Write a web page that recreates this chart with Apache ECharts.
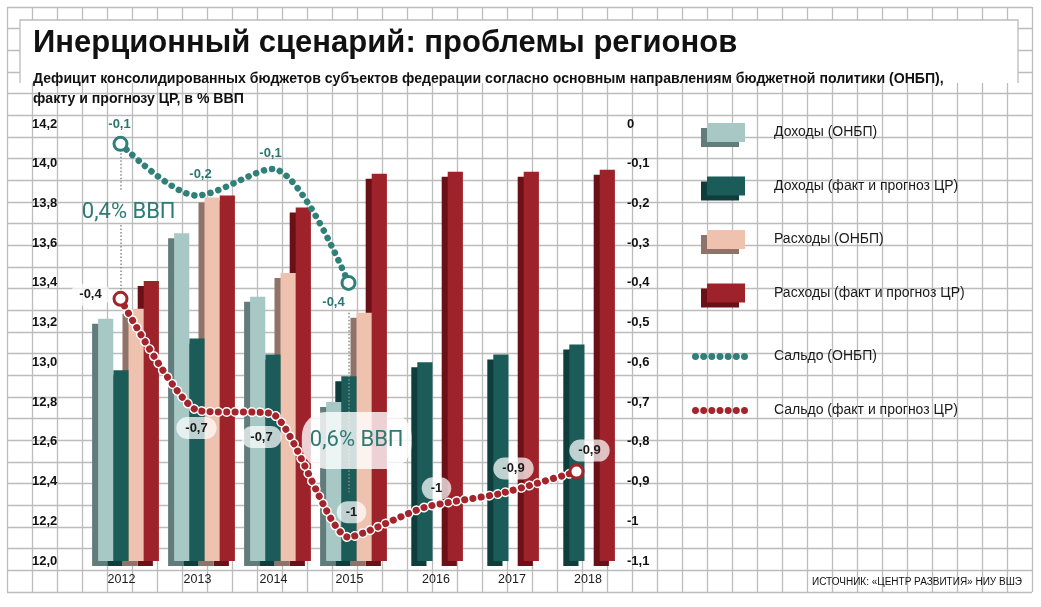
<!DOCTYPE html>
<html>
<head>
<meta charset="utf-8">
<script src="https://cdn.jsdelivr.net/npm/echarts@6/dist/echarts.min.js"></script>
<style>
  html, body { margin: 0; padding: 0; background: #fff; }
  #chart { width: 1041px; height: 607px; }
</style>
</head>
<body>
<div id="chart"></div>
<script>
// данные
var years = ['2012', '2013', '2014', '2015', '2016', '2017', '2018']
var dohodyOnbp = [13.22, 13.65, 13.33, 12.80, null, null, null]
var dohodyCr = [12.96, 13.12, 13.04, 12.93, 13.00, 13.04, 13.09]
var rashodyOnbp = [13.27, 13.83, 13.45, 13.25, null, null, null]
var rashodyCr = [13.41, 13.84, 13.78, 13.95, 13.96, 13.96, 13.97]
var saldoOnbp = [-0.05, -0.18, -0.113, -0.40, null, null, null]
var saldoCr = [-0.44, -0.72, -0.73, -1.04, -0.965, -0.93, -0.875]
var saldoOnbpLabels = ['-0,1', '-0,2', '-0,1', '-0,4']
var saldoCrLabels = ['-0,4', '-0,7', '-0,7', '-1', '-1', '-0,9', '-0,9']
var gdpNotes = ['0,4% ВВП', '0,6% ВВП']

var FONT = 'Liberation Sans'
var TEAL = '#2f8079'
var RED = '#a3242b'

// смещения подписей сальдо относительно точек
var onbpOffsets = [[-1, -19], [4, -21], [-2, -15], [-15, 20]]
var crOffsets = [[-30, -4], [0, 18], [-11, 23], [3, -25], [12, -19], [13, -25], [13, -21]]

function commaFmt(v) {
    var r = Math.round(v)
    if (Math.abs(v - r) < 1e-9) return String(r === 0 ? 0 : r)
    return v.toFixed(1).replace('.', ',')
}

function dotsPath() {
    var p = ''
    for (var k = 0; k < 7; k++) {
        var cx = 3.5 + k * 8.17
        p += 'M' + (cx - 3.5) + ',3.5a3.5,3.5 0 1,0 7,0a3.5,3.5 0 1,0 -7,0z'
    }
    return 'path://' + p
}

function barStyle(front, side) {
    return {
        color: front,
        shadowColor: side,
        shadowBlur: 0,
        shadowOffsetX: -6,
        shadowOffsetY: 5
    }
}

var barColors = {
    dohOnbp: barStyle('#a7c8c5', '#617c7a'),
    dohCr: barStyle('#1b5b58', '#0e3d3b'),
    rasOnbp: barStyle('#efc1af', '#8f7368'),
    rasCr: barStyle('#9e2229', '#6a1016')
}

var chart = echarts.init(document.getElementById('chart'))

var option = {
    animation: false,
    backgroundColor: '#fff',
    textStyle: { fontFamily: FONT },
    title: [{
        text: 'Инерционный сценарий: проблемы регионов',
        left: 33,
        top: 28,
        padding: 0,
        itemGap: 10,
        textStyle: { fontSize: 31, fontWeight: 900, color: '#111', fontFamily: FONT },
        subtext: 'Дефицит консолидированных бюджетов субъектов федерации согласно основным направлениям бюджетной политики (ОНБП),\nфакту и прогнозу ЦР, в % ВВП',
        subtextStyle: { fontSize: 14.1, fontWeight: 'bold', color: '#111', lineHeight: 20, fontFamily: FONT }
    }, {
        text: 'ИСТОЧНИК: «ЦЕНТР РАЗВИТИЯ» НИУ ВШЭ',
        right: 19,
        top: 577,
        padding: 0,
        textStyle: { fontSize: 10, fontWeight: 'normal', color: '#111', fontFamily: FONT }
    }],
    graphic: [{
        type: 'rect',
        z: 1,
        shape: { x: 20, y: 20, width: 998, height: 63 },
        style: { fill: '#fff' }
    }, {
        type: 'polyline',
        z: 1,
        shape: { points: [[20, 83], [20, 20], [1018, 20], [1018, 83]] },
        style: { stroke: '#bcbcbc', lineWidth: 1.3, fill: null }
    }],
    legend: [{
        orient: 'vertical',
        left: 707,
        top: 123,
        padding: 0,
        itemWidth: 38,
        itemHeight: 19,
        itemGap: 34.5,
        selectedMode: false,
        textStyle: { fontSize: 14, color: '#1a1a1a', padding: [0, 0, 0, 24], fontFamily: FONT },
        data: [
            { name: 'Доходы (ОНБП)', icon: 'rect', itemStyle: barColors.dohOnbp },
            { name: 'Доходы (факт и прогноз ЦР)', icon: 'rect', itemStyle: barColors.dohCr },
            { name: 'Расходы (ОНБП)', icon: 'rect', itemStyle: barColors.rasOnbp },
            { name: 'Расходы (факт и прогноз ЦР)', icon: 'rect', itemStyle: barColors.rasCr }
        ]
    }, {
        orient: 'vertical',
        left: 692,
        top: 349.5,
        padding: 0,
        itemWidth: 56,
        itemHeight: 7,
        itemGap: 40,
        selectedMode: false,
        textStyle: { fontSize: 14, color: '#1a1a1a', padding: [0, 0, 0, 21], fontFamily: FONT },
        data: [
            { name: 'Сальдо (ОНБП)', icon: dotsPath(), itemStyle: { color: TEAL, borderWidth: 0 } },
            { name: 'Сальдо (факт и прогноз ЦР)', icon: dotsPath(), itemStyle: { color: RED, borderWidth: 0 } }
        ]
    }],
    grid: [
        { left: 90.5, right: 418.5, top: 124, bottom: 46 },
        { left: 82.5, right: 426.5, top: 124, bottom: 46 },
        { left: 7, right: 9, top: 7, bottom: 15 }
    ],
    xAxis: [{
        type: 'category',
        gridIndex: 0,
        data: years,
        axisLine: { show: false },
        axisTick: { show: false },
        axisLabel: {
            margin: 12,
            formatter: function (v, i) { return (i < 4 ? '{a|' : '{b|') + v + '}' },
            rich: {
                a: { fontSize: 12.5, color: '#1a1a1a', padding: [0, 14, 0, 0], fontFamily: FONT },
                b: { fontSize: 12.5, color: '#1a1a1a', padding: [0, 0, 0, 7], fontFamily: FONT }
            }
        }
    }, {
        type: 'category',
        gridIndex: 1,
        data: years,
        show: false
    }, {
        type: 'value',
        gridIndex: 2,
        min: 0,
        max: 41,
        interval: 1,
        axisLine: { show: false },
        axisTick: { show: false },
        axisLabel: { show: false },
        splitLine: { show: true, lineStyle: { color: '#bcbcbc', width: 1.3 } }
    }],
    yAxis: [{
        type: 'value',
        gridIndex: 0,
        position: 'left',
        min: 12,
        max: 14.2,
        interval: 0.2,
        axisLine: { show: false },
        axisTick: { show: false },
        splitLine: { show: false },
        axisLabel: {
            align: 'left',
            margin: 58.5,
            fontSize: 13,
            fontWeight: 'bold',
            color: '#111',
            formatter: function (v) { return v.toFixed(1).replace('.', ',') }
        }
    }, {
        type: 'value',
        gridIndex: 0,
        position: 'right',
        min: -1.1,
        max: 0,
        interval: 0.1,
        axisLine: { show: false },
        axisTick: { show: false },
        splitLine: { show: false },
        axisLabel: {
            align: 'left',
            margin: 4.5,
            fontSize: 13,
            fontWeight: 'bold',
            color: '#111',
            formatter: commaFmt
        }
    }, {
        type: 'value',
        gridIndex: 1,
        min: -1.1,
        max: 0,
        show: false
    }, {
        type: 'value',
        gridIndex: 2,
        min: 0,
        max: 27,
        interval: 1,
        axisLine: { show: false },
        axisTick: { show: false },
        axisLabel: { show: false },
        splitLine: { show: true, lineStyle: { color: '#bcbcbc', width: 1.3 } }
    }],
    series: [{
        name: 'Доходы (ОНБП)',
        type: 'bar',
        xAxisIndex: 0,
        yAxisIndex: 0,
        z: 5,
        barGap: '0%',
        barCategoryGap: '20%',
        data: dohodyOnbp,
        itemStyle: barColors.dohOnbp,
        // подписи «% ВВП»; точка маркера стоит на первом столбце группы, сдвигаем к центру года
        markPoint: {
            z: 9,
            symbol: 'circle',
            symbolSize: 0,
            silent: true,
            label: {
                show: true,
                position: 'inside',
                offset: [23, 0],
                fontFamily: 'Roboto',
                fontSize: 22,
                color: '#2f7a75',
                formatter: function (p) { return p.name }
            },
            data: [
                { name: gdpNotes[0], coord: [years[0], 13.753] },
                {
                    name: gdpNotes[1], coord: [years[3], 12.607],
                    label: {
                        backgroundColor: 'rgba(255,255,255,0.8)',
                        borderRadius: 24,
                        padding: [17, 8, 16, 8],
                        lineHeight: 24
                    }
                }
            ]
        }
    }, {
        name: 'Доходы (факт и прогноз ЦР)',
        type: 'bar',
        xAxisIndex: 0,
        yAxisIndex: 0,
        z: 4,
        barGap: '0%',
        barCategoryGap: '20%',
        data: dohodyCr,
        itemStyle: barColors.dohCr
    }, {
        name: 'Расходы (ОНБП)',
        type: 'bar',
        xAxisIndex: 0,
        yAxisIndex: 0,
        z: 3,
        barGap: '0%',
        barCategoryGap: '20%',
        data: rashodyOnbp,
        itemStyle: barColors.rasOnbp
    }, {
        name: 'Расходы (факт и прогноз ЦР)',
        type: 'bar',
        xAxisIndex: 0,
        yAxisIndex: 0,
        z: 2,
        barGap: '0%',
        barCategoryGap: '20%',
        data: rashodyCr,
        itemStyle: barColors.rasCr
    }, {
        name: 'Сальдо (ОНБП)',
        type: 'line',
        xAxisIndex: 1,
        yAxisIndex: 2,
        z: 7,
        smooth: 0.3,
        symbol: 'circle',
        symbolSize: function (v, p) { return (p.dataIndex === 0 || p.dataIndex === 3) ? 13 : 0 },
        lineStyle: { color: TEAL, width: 6.5, type: [0.1, 8.17], cap: 'round' },
        itemStyle: { color: '#fff', borderColor: TEAL, borderWidth: 3 },
        data: saldoOnbp.map(function (v, i) {
            return {
                value: v,
                label: {
                    show: v !== null,
                    position: 'inside',
                    offset: onbpOffsets[i] || [0, 0],
                    formatter: saldoOnbpLabels[i] || '',
                    fontSize: 13,
                    fontWeight: 'bold',
                    color: '#2a7570'
                }
            }
        }),
        markLine: {
            z: 6,
            silent: true,
            symbol: 'none',
            label: { show: false },
            lineStyle: { color: '#8a8a8a', type: [1.5, 2], width: 1.5 },
            data: [
                [{ coord: [years[0], -0.065] }, { coord: [years[0], -0.166] }],
                [{ coord: [years[0], -0.254] }, { coord: [years[0], -0.417] }],
                [{ coord: [years[3], -0.475] }, { coord: [years[3], -0.927] }]
            ]
        }
    }, {
        name: 'Сальдо фон',
        type: 'line',
        xAxisIndex: 1,
        yAxisIndex: 2,
        z: 7,
        silent: true,
        smooth: 0.2,
        showSymbol: false,
        lineStyle: { color: '#fff', width: 10, type: [0.1, 8.2], cap: 'round' },
        data: saldoCr
    }, {
        name: 'Сальдо (факт и прогноз ЦР)',
        type: 'line',
        xAxisIndex: 1,
        yAxisIndex: 2,
        z: 8,
        smooth: 0.2,
        symbol: 'circle',
        symbolSize: function (v, p) { return (p.dataIndex === 0 || p.dataIndex === 6) ? 13 : 0 },
        lineStyle: { color: RED, width: 7, type: [0.1, 8.2], cap: 'round' },
        itemStyle: { color: '#fff', borderColor: RED, borderWidth: 3 },
        data: saldoCr.map(function (v, i) {
            return {
                value: v,
                label: {
                    show: true,
                    position: 'inside',
                    offset: crOffsets[i],
                    formatter: saldoCrLabels[i],
                    fontSize: 13,
                    fontWeight: 'bold',
                    color: '#1a1a1a',
                    lineHeight: 14,
                    backgroundColor: 'rgba(255,255,255,0.72)',
                    borderRadius: 11,
                    padding: [4, 9]
                }
            }
        })
    }]
}

chart.setOption(option)
</script>
</body>
</html>
